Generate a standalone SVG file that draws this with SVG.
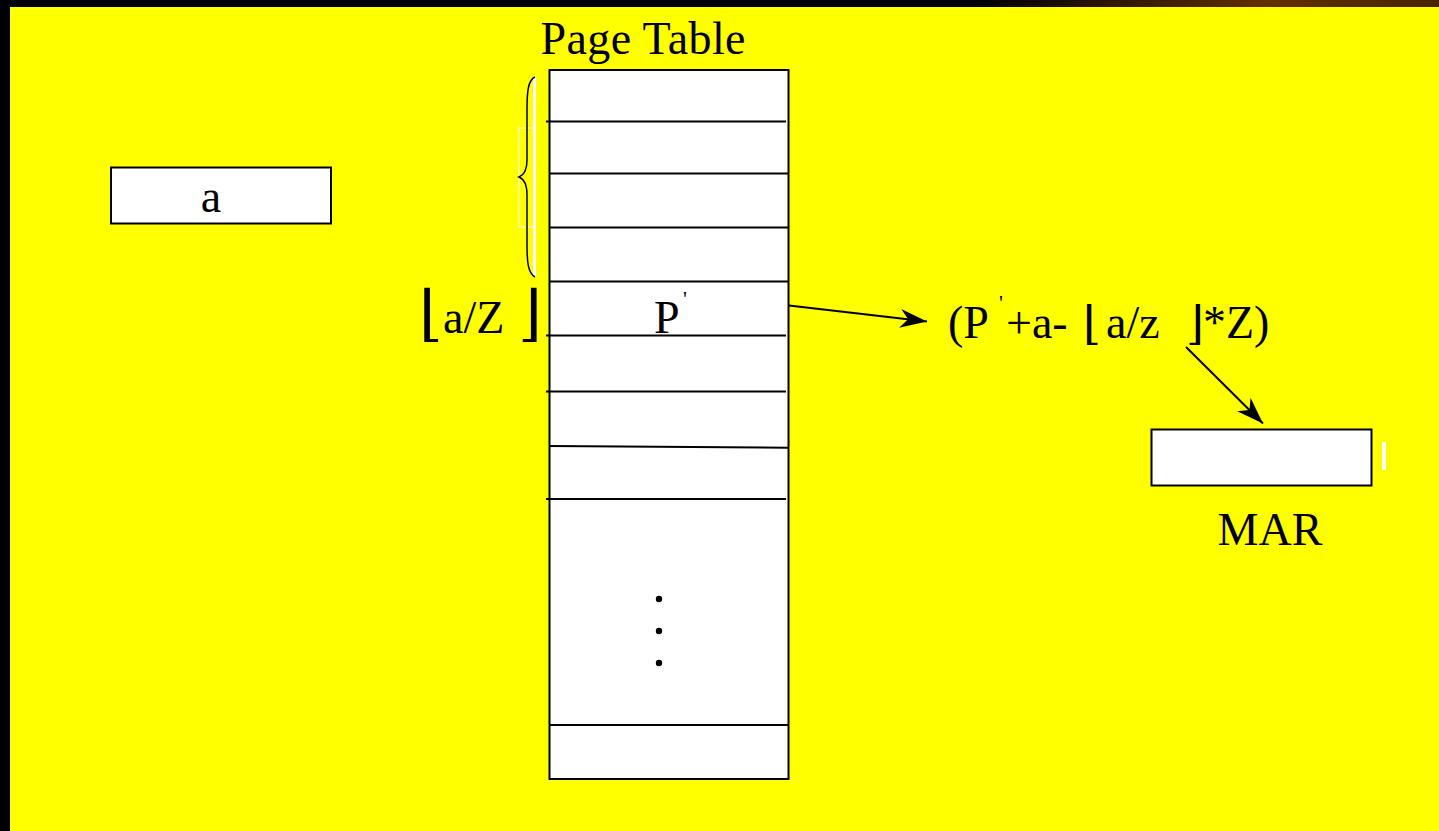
<svg xmlns="http://www.w3.org/2000/svg" width="1439" height="831" viewBox="0 0 1439 831">
<style>
.t{font-family:"Liberation Serif","DejaVu Serif",serif;font-size:46px;fill:#000}
.m{font-family:"DejaVu Sans","DejaVu Serif",sans-serif;font-weight:200;fill:#000}
.box{fill:#fff;stroke:#000;stroke-width:2}
.row{stroke:#000;stroke-width:2;fill:none}
.conn{stroke:#000;stroke-width:2;fill:none}
</style>
<defs>
<linearGradient id="top" x1="0" y1="0" x2="1" y2="0">
<stop offset="0" stop-color="#000"/>
<stop offset="0.68" stop-color="#000"/>
<stop offset="0.88" stop-color="#632f00"/>
<stop offset="1" stop-color="#4a2300"/>
</linearGradient>
<marker id="ah" markerUnits="userSpaceOnUse" markerWidth="40" markerHeight="30" refX="0" refY="0" viewBox="-30 -15 40 30" orient="auto">
<path d="M0,0 L-27,-9.5 L-19,0 L-27,9.5 Z" fill="#000"/>
</marker>
</defs>
<rect x="0" y="0" width="1439" height="831" fill="#000"/>
<rect x="0" y="0" width="1439" height="7" fill="url(#top)"/>
<rect x="10" y="7" width="1429" height="824" fill="#ffff00"/>

<g id="title"><text class="t" x="643" y="54" text-anchor="middle" textLength="205">Page Table</text></g>

<g id="a-box">
<rect class="box" x="111" y="167.5" width="220" height="56"/>
<text class="t" x="211" y="212" text-anchor="middle">a</text>
</g>

<g id="page-table">
<rect class="box" x="549.5" y="70" width="239" height="709"/>
<line class="row" x1="546" y1="121.5" x2="786" y2="121.5"/>
<line class="row" x1="549" y1="173.5" x2="788" y2="173.5"/>
<line class="row" x1="549" y1="227.5" x2="788" y2="227.5"/>
<line class="row" x1="549" y1="281.5" x2="788" y2="281.5"/>
<line class="row" x1="546" y1="335.5" x2="786" y2="335.5"/>
<line class="row" x1="546" y1="391.5" x2="786" y2="391.5"/>
<line class="row" x1="549" y1="446" x2="788" y2="447.7"/>
<line class="row" x1="546" y1="499" x2="786" y2="499"/>
<line class="row" x1="549" y1="725" x2="788" y2="725"/>
<text class="t" x="654" y="333">P</text>
<text class="t" x="683" y="306" style="font-size:22px">'</text>
<circle cx="659" cy="599" r="3.2" fill="#000"/>
<circle cx="659" cy="631" r="3.2" fill="#000"/>
<circle cx="659" cy="663" r="3.2" fill="#000"/>
</g>

<g id="brace">
<rect x="533" y="77" width="3" height="200" fill="#fff"/>
<rect x="519" y="128" width="16" height="99" fill="none" stroke="#fff" stroke-width="1"/>
<path d="M535,77 C528,80 527,92 527,110 L527,160 C527,170 524,175 519,177 C524,179 527,184 527,195 L527,245 C527,262 528,273 535,277" fill="none" stroke="#000" stroke-width="1.5"/>
</g>

<g id="index-label">
<text class="t" y="333"><tspan class="m" x="419" y="334" style="font-size:61px">⌊</tspan><tspan x="443" y="333">a/Z</tspan><tspan class="m" x="518" y="334" style="font-size:61px">⌋</tspan></text>
</g>

<g id="formula">
<text class="t" y="338"><tspan x="948">(P</tspan><tspan x="999" y="310" style="font-size:22px">'</tspan><tspan x="1006" y="338">+a-</tspan><tspan class="m" x="1083" y="339" style="font-size:46px">⌊</tspan><tspan x="1106" y="338">a/z</tspan><tspan class="m" x="1186" y="339" style="font-size:46px">⌋</tspan><tspan x="1203" y="338">*Z)</tspan></text>
</g>

<g id="mar">
<rect class="box" x="1151.5" y="429.5" width="220" height="56"/>
<rect x="1382" y="442" width="4" height="28" fill="#fff"/>
<text class="t" x="1270" y="545" text-anchor="middle">MAR</text>
</g>

<g id="connectors">
<line class="conn" x1="789" y1="305.5" x2="927" y2="321.5" marker-end="url(#ah)"/>
<line class="conn" x1="1186" y1="347" x2="1263" y2="423.5" marker-end="url(#ah)"/>
</g>
</svg>
